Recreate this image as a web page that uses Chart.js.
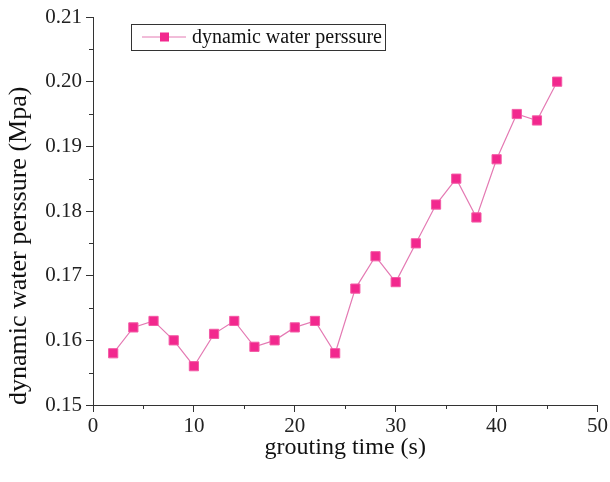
<!DOCTYPE html>
<html>
<head>
<meta charset="utf-8">
<script src="https://cdn.jsdelivr.net/npm/chart.js@4.4.1/dist/chart.umd.min.js"></script>
<style>
  html, body { margin: 0; padding: 0; background: #fff; }
  #wrap { width: 610px; height: 482px; }
</style>
</head>
<body>
<div id="wrap"><canvas id="pressureChart" width="610" height="482"></canvas></div>
<script>
// values
const groutTime = [2, 4, 6, 8, 10, 12, 14, 16, 18, 20, 22, 24, 26, 28, 30, 32, 34, 36, 38, 40, 42, 44, 46];
const waterPressure = [0.158, 0.162, 0.163, 0.160, 0.156, 0.161, 0.163, 0.159, 0.160, 0.162, 0.163, 0.158,
  0.168, 0.173, 0.169, 0.175, 0.181, 0.185, 0.179, 0.188, 0.195, 0.194, 0.200];
const seriesName = "dynamic water perssure";
const xTitle = "grouting time (s)";
const yTitle = "dynamic water perssure (Mpa)";

const serif = "'Liberation Serif', 'Times New Roman', serif";
const lineColor = "#e47ab3";
const markColor = "#f2288e";

const points = groutTime.map((t, i) => ({ x: t, y: waterPressure[i] }));

// minor ticks are shorter, draw them by hand
const minorTicks = {
  id: "minorTicks",
  afterDraw(chart) {
    const ctx = chart.ctx;
    const xs = chart.scales.x, ys = chart.scales.y;
    ctx.save();
    ctx.strokeStyle = "#333";
    ctx.lineWidth = 1;
    xs.ticks.forEach((t, i) => {
      if (i % 2 === 1) {
        const px = Math.round(xs.getPixelForValue(t.value)) + 0.5;
        ctx.beginPath();
        ctx.moveTo(px, xs.top);
        ctx.lineTo(px, xs.top + 4);
        ctx.stroke();
      }
    });
    ys.ticks.forEach((t, i) => {
      if (i % 2 === 1) {
        const py = Math.round(ys.getPixelForValue(t.value)) + 0.5;
        ctx.beginPath();
        ctx.moveTo(ys.right, py);
        ctx.lineTo(ys.right - 4, py);
        ctx.stroke();
      }
    });
    ctx.restore();
  }
};

// boxed legend inside the plot, like the original figure
const boxLegend = {
  id: "boxLegend",
  afterDraw(chart) {
    const ctx = chart.ctx;
    const ds = chart.data.datasets[0];
    const x0 = 131, y0 = 24, w = 254, h = 26;
    const cy = y0 + h / 2;
    ctx.save();
    ctx.strokeStyle = "#333";
    ctx.lineWidth = 1;
    ctx.strokeRect(x0 + 0.5, y0 + 0.5, w, h);
    ctx.strokeStyle = ds.borderColor;
    ctx.beginPath();
    ctx.moveTo(x0 + 11, cy);
    ctx.lineTo(x0 + 55, cy);
    ctx.stroke();
    ctx.fillStyle = ds.pointBackgroundColor;
    ctx.fillRect(x0 + 29, cy - 4.5, 9, 9);
    ctx.fillStyle = "#111";
    ctx.font = "20px " + serif;
    ctx.textBaseline = "middle";
    ctx.fillText(ds.label, x0 + 61, cy + 1);
    ctx.restore();
  }
};

new Chart(document.getElementById("pressureChart"), {
  type: "line",
  data: {
    datasets: [
      {
        label: seriesName,
        data: points,
        borderColor: lineColor,
        borderWidth: 1.2,
        pointStyle: "rect",
        pointRadius: 6.5,
        pointBackgroundColor: markColor,
        pointBorderColor: "#f35aa5",
        pointBorderWidth: 1,
        tension: 0
      }
    ]
  },
  options: {
    responsive: false,
    animation: false,
    layout: { padding: { top: 17, right: 12, left: 4, bottom: 20 } },
    plugins: {
      legend: { display: false },
      tooltip: { enabled: false }
    },
    scales: {
      x: {
        type: "linear",
        min: 0,
        max: 50,
        ticks: {
          stepSize: 5,
          autoSkip: false,
          maxRotation: 0,
          color: "#222",
          padding: 2,
          font: { family: serif, size: 21 },
          callback: (v, i) => (i % 2 === 0 ? String(v) : "")
        },
        grid: {
          drawOnChartArea: false,
          drawTicks: true,
          tickLength: 7,
          tickColor: (c) => (c.index % 2 === 0 ? "#333" : "rgba(0,0,0,0)")
        },
        border: { display: true, color: "#333", width: 1 },
        title: {
          display: true,
          text: xTitle,
          color: "#111",
          font: { family: serif, size: 24 },
          padding: { top: 0, bottom: 0 }
        },
        afterFit: (s) => { s.height = 57; }
      },
      y: {
        min: 0.15,
        max: 0.21,
        ticks: {
          stepSize: 0.005,
          autoSkip: false,
          color: "#222",
          padding: 4,
          font: { family: serif, size: 21 },
          callback: (v, i) => (i % 2 === 0 ? v.toFixed(2) : "")
        },
        grid: {
          drawOnChartArea: false,
          drawTicks: true,
          tickLength: 7,
          tickColor: (c) => (c.index % 2 === 0 ? "#333" : "rgba(0,0,0,0)")
        },
        border: { display: true, color: "#333", width: 1 },
        title: {
          display: true,
          text: yTitle,
          align: "start",
          color: "#111",
          font: { family: serif, size: 26 },
          padding: { top: 0, bottom: 0 }
        },
        afterFit: (s) => { s.width = 89; }
      }
    }
  },
  plugins: [minorTicks, boxLegend]
});
</script>
</body>
</html>
